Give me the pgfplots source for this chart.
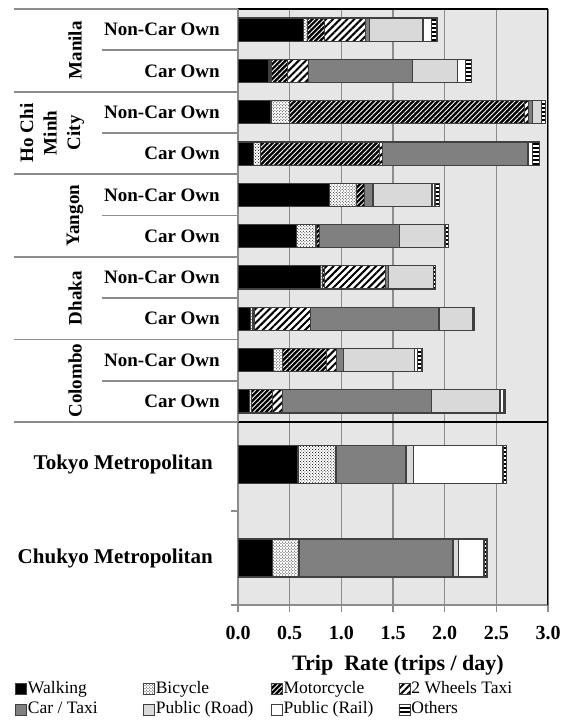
\documentclass[border=0pt]{standalone}
\usepackage{pgfplots}
\pgfplotsset{compat=1.18}
\usepackage{pgfplotstable}
\usepackage{fontspec}
\setmainfont{Liberation Serif}
\usetikzlibrary{patterns,patterns.meta}
\definecolor{bg}{HTML}{E6E6E6}
\definecolor{gridc}{HTML}{8C8C8C}
\definecolor{cartaxi}{HTML}{808080}
\definecolor{road}{HTML}{D9D9D9}
\definecolor{edge}{HTML}{404040}

\pgfplotstableread{
row walk bike moto twt car road rail oth
1 0.63 0.04 0.17 0.39 0.04 0.52 0.08 0.055
2 0.30 0.02 0.16 0.20 1.01 0.435 0.08 0.055
3 0.32 0.18 2.27 0.04 0.04 0.087 0.00 0.04
4 0.15 0.065 1.155 0.03 1.40 0.01 0.04 0.07
5 0.887 0.26 0.08 0.00 0.08 0.57 0.03 0.04
6 0.565 0.19 0.03 0.00 0.78 0.43 0.015 0.03
7 0.80 0.02 0.02 0.59 0.03 0.43 0.00 0.025
8 0.12 0.02 0.015 0.55 1.24 0.33 0.005 0.01
9 0.34 0.09 0.43 0.09 0.07 0.69 0.03 0.04
10 0.11 0.02 0.20 0.10 1.445 0.66 0.04 0.015
}\uppertab

\pgfplotstableread{
row walk bike moto twt car road rail oth
1 0.58 0.365 0.01 0.00 0.67 0.07 0.87 0.03
2 0.33 0.26 0.00 0.00 1.49 0.05 0.25 0.03
}\lowertab

\pgfplotsset{
  sWalk/.style={fill=black},
  sBike/.style={fill=white, postaction={pattern=crosshatch dots, pattern color=black}},
  sMoto/.style={fill=black, postaction={pattern={Lines[angle=45,distance=3.5bp,line width=0.9bp]}, pattern color=white}},
  sTwt/.style={fill=white, postaction={pattern={Lines[angle=45,distance=5bp,line width=2bp]}, pattern color=black}},
  sCar/.style={fill=cartaxi},
  sRoad/.style={fill=road},
  sRail/.style={fill=white},
  sOth/.style={fill=white, postaction={pattern={Lines[angle=0,distance=4bp,line width=1.2bp]}, pattern color=black}},
  cmn/.style={
    scale only axis, width=310bp, xmin=0, xmax=3,
    xbar stacked, y dir=reverse,
    axis background/.style={fill=bg},
    xtick={0,0.5,1,1.5,2,2.5,3},
    xmajorgrids, grid style={gridc, line width=1.5bp},
    ytick style={draw=none},
    separate axis lines,
    every axis plot/.append style={draw=edge, line width=1.2bp},
    legend image code/.code={\draw[##1, line width=0.8bp, draw=edge] (0bp,-5.5bp) rectangle (11bp,5.5bp);},
  },
}

\begin{document}
\begin{tikzpicture}
\path[use as bounding box] (0,0) rectangle (585bp,-720bp);

% lower panel
\begin{axis}[cmn,
  at={(238bp,-422bp)}, anchor=north west, height=183bp,
  ymin=0.55, ymax=2.5, bar width=0.405,
  ytick={1,2}, yticklabels={Tokyo Metropolitan, Chukyo Metropolitan},
  yticklabel style={font=\fontsize{21bp}{25bp}\selectfont\bfseries, inner sep=0pt, xshift=-18bp},
  xtick pos=bottom, tick align=outside, major tick length=7bp,
  xtick style={gridc, line width=1.5bp},
  xticklabel style={font=\fontsize{20bp}{24bp}\selectfont\bfseries, inner sep=0pt, yshift=-14bp,
    /pgf/number format/.cd, fixed, fixed zerofill, precision=1, assume math mode=true},
  xlabel={Trip\ \ Rate (trips / day)},
  xlabel style={font=\fontsize{22bp}{26bp}\selectfont\bfseries, inner sep=0pt, yshift=-15bp, xshift=5bp},
  x axis line style={gridc, line width=1.5bp},
  y axis line style={gridc, line width=1.5bp},
  legend columns=4,
  legend cell align=left,
  legend style={draw=none, fill=none, at={(-0.729,-0.40)}, anchor=north west,
    font=\fontsize{17.5bp}{21bp}\selectfont, nodes={inner sep=1bp, text height=12bp, text depth=3.5bp},
    /tikz/every even column/.append style={column sep=2bp},
    row sep=3bp},
]
\addplot[sWalk] table[x=walk,y=row]{\lowertab};
\addplot[sBike] table[x=bike,y=row]{\lowertab};
\addplot[sMoto] table[x=moto,y=row]{\lowertab};
\addplot[sTwt] table[x=twt,y=row]{\lowertab};
\addplot[sCar] table[x=car,y=row]{\lowertab};
\addplot[sRoad] table[x=road,y=row]{\lowertab};
\addplot[sRail] table[x=rail,y=row]{\lowertab};
\addplot[sOth] table[x=oth,y=row]{\lowertab};
\addlegendentry{\makebox[112bp][l]{Walking}}
\addlegendentry{\makebox[112bp][l]{Bicycle}}
\addlegendentry{\makebox[112bp][l]{Motorcycle}}
\addlegendentry{2 Wheels Taxi}
\addlegendentry{\makebox[112bp][l]{Car / Taxi}}
\addlegendentry{\makebox[112bp][l]{Public (Road)}}
\addlegendentry{\makebox[112bp][l]{Public (Rail)}}
\addlegendentry{Others}
\draw[black, line width=1.5bp] (rel axis cs:1,0) -- (rel axis cs:1,1);
\end{axis}

% upper panel
\begin{axis}[cmn,
  at={(238bp,-9bp)}, anchor=north west, height=413bp,
  ymin=0.5, ymax=10.5, bar width=0.56,
  ytick={1,...,10},
  yticklabels={Non-Car Own, Car Own, Non-Car Own, Car Own, Non-Car Own, Car Own, Non-Car Own, Car Own, Non-Car Own, Car Own},
  yticklabel style={font=\fontsize{19bp}{23bp}\selectfont\bfseries, inner sep=0pt, xshift=-18bp},
  xticklabels={}, xtick style={draw=none},
  x axis line style={black, line width=1.5bp},
  y axis line style={gridc, line width=1.5bp},
]
\addplot[sWalk] table[x=walk,y=row]{\uppertab};
\addplot[sBike] table[x=bike,y=row]{\uppertab};
\addplot[sMoto] table[x=moto,y=row]{\uppertab};
\addplot[sTwt] table[x=twt,y=row]{\uppertab};
\addplot[sCar] table[x=car,y=row]{\uppertab};
\addplot[sRoad] table[x=road,y=row]{\uppertab};
\addplot[sRail] table[x=rail,y=row]{\uppertab};
\addplot[sOth] table[x=oth,y=row]{\uppertab};
\draw[black, line width=1.5bp] (rel axis cs:1,0) -- (rel axis cs:1,1);
\end{axis}

% separators and group labels
\foreach \yy in {9,91.6,174.2,256.8,339.4,422} {
  \draw[gridc, line width=1.8bp] (14bp,-\yy bp) -- (238bp,-\yy bp);
}
\foreach \yy in {50.3,132.9,215.5,298.1,380.7} {
  \draw[gridc, line width=1.8bp] (102bp,-\yy bp) -- (238bp,-\yy bp);
}
\foreach \yy in {511,605} {
  \draw[gridc, line width=1.5bp] (231bp,-\yy bp) -- (238bp,-\yy bp);
}
\begin{scope}[every node/.style={font=\fontsize{19bp}{23.5bp}\selectfont\bfseries, rotate=90, inner sep=0pt, align=center}]
\node at (75bp,-50.3bp) {Manila};
\node at (52bp,-132.9bp) {Ho Chi\\Minh\\City};
\node at (75bp,-215.5bp) {Yangon};
\node at (75bp,-298.1bp) {Dhaka};
\node at (75bp,-380.7bp) {Colombo};
\end{scope}
\end{tikzpicture}
\end{document}
